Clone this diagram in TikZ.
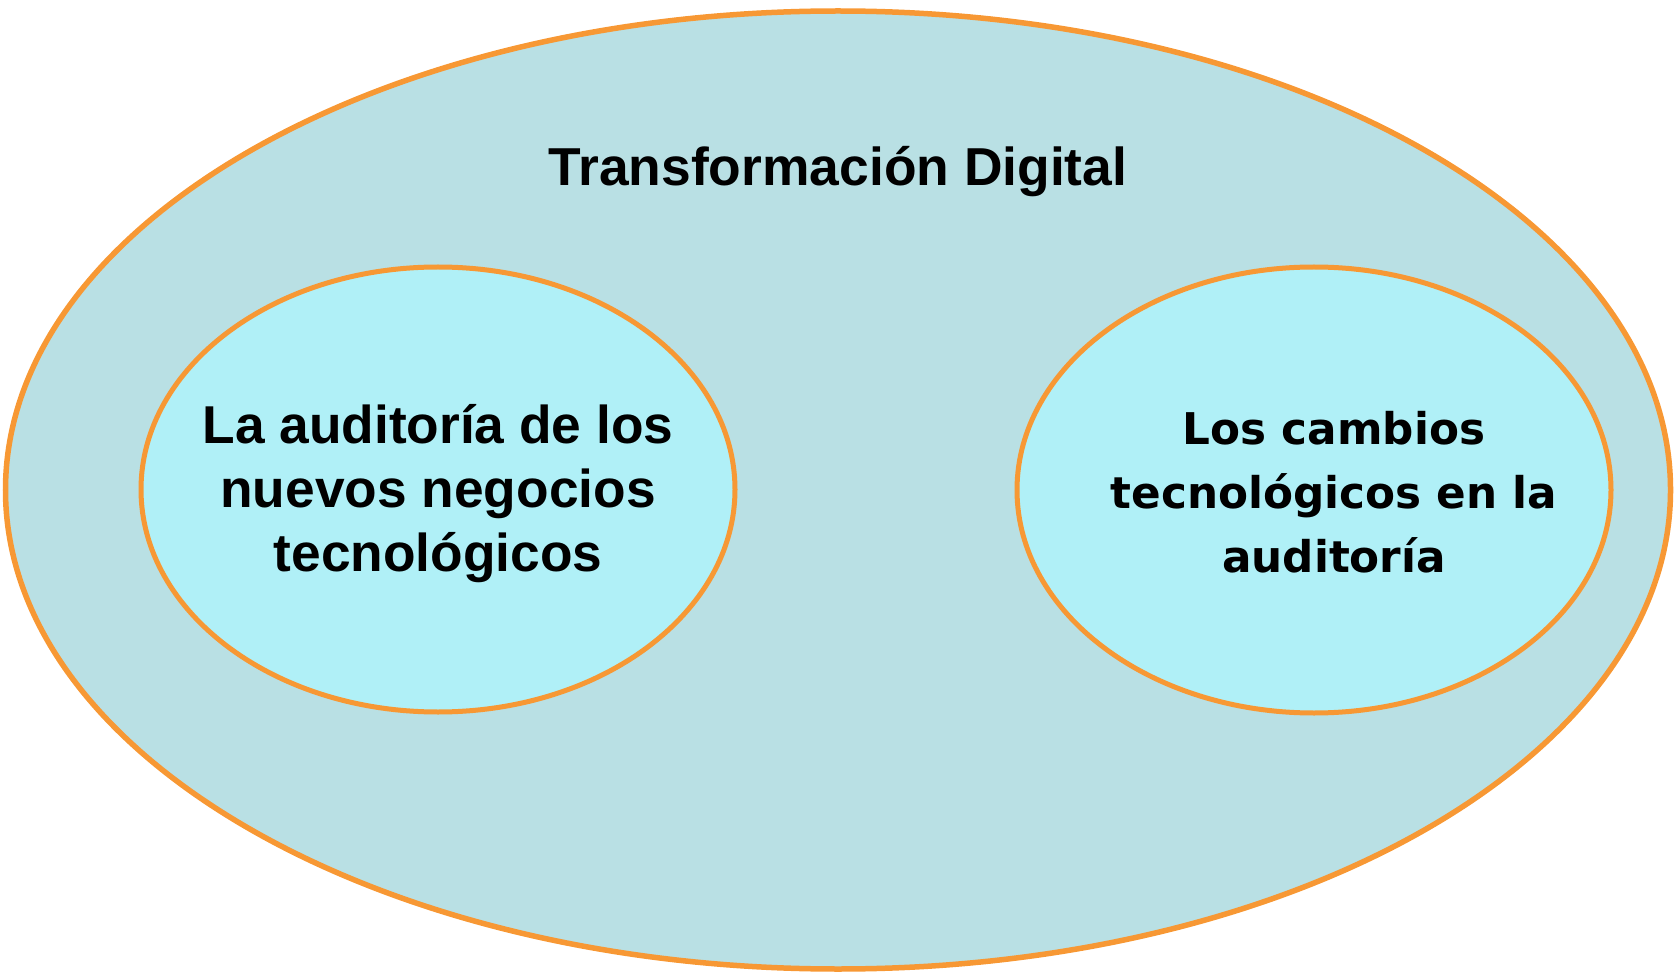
\documentclass[tikz,border=0pt]{standalone}
\usepackage{fontspec}
\setmainfont{Liberation Sans}
\newfontfamily\rfont{DejaVu Sans}
\usetikzlibrary{shapes.geometric}
\definecolor{outerfill}{RGB}{185,224,228}
\definecolor{innerfill}{RGB}{176,240,247}
\definecolor{rim}{RGB}{247,152,52}
\tikzset{
  bigell/.style={ellipse, draw=rim, fill=outerfill, line width=5.5pt, inner sep=0pt},
  smallell/.style={ellipse, draw=rim, fill=innerfill, line width=5pt, inner sep=0pt},
  lbl/.style={align=center, inner sep=0pt, text=black}
}
\begin{document}
\begin{tikzpicture}[x=1pt,y=-1pt]
\useasboundingbox (0,0) rectangle (1676,973);
\node[bigell, minimum width=1665pt, minimum height=958pt] (outer) at (838,490) {};
\node[smallell, minimum width=594pt, minimum height=445pt] (left) at (438,489.5) {};
\node[smallell, minimum width=594pt, minimum height=446pt] (right) at (1314,490) {};
\node[lbl, font=\bfseries\fontsize{53.4}{62}\selectfont] (title) at (838,172) {Transformación Digital};
\node[lbl, font=\bfseries\fontsize{53.3}{64}\selectfont] (ltext) at (438,494) {La auditoría de los\\nuevos negocios\\tecnológicos};
\node[lbl, font=\rfont\bfseries\fontsize{43.7}{64}\selectfont] (rtext) at (1334,492) {Los cambios\\tecnológicos en la\\auditoría};
\end{tikzpicture}
\end{document}
